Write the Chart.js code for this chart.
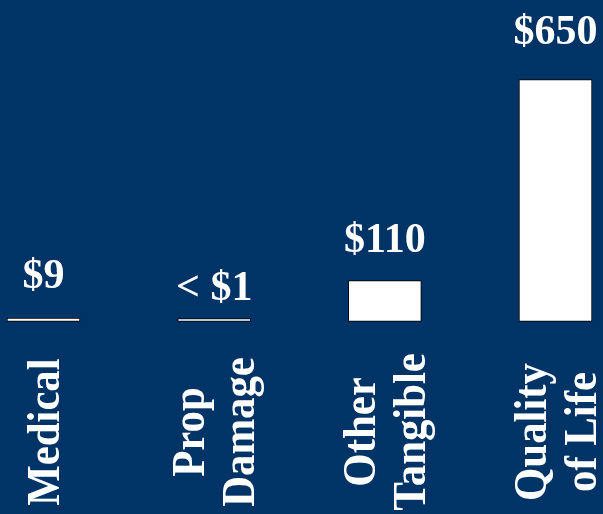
<!DOCTYPE html>
<html>
<head>
<meta charset="utf-8">
<script src="https://cdn.jsdelivr.net/npm/chart.js@4"></script>
<style>
    html, body { margin: 0; padding: 0; background: #003366; }
    #wrap { width: 603px; height: 514px; }
</style>
</head>
<body>
<div id="wrap"><canvas id="costChart" width="603" height="514"></canvas></div>
<script>
// Данные графика
const categories = [['Medical'], ['Prop', 'Damage'], ['Other', 'Tangible'], ['Quality', 'of Life']];
const costValues = [9, 0.8, 110, 650];
const valueLabels = ['$9', '< $1', '$110', '$650'];

// Подъём подписей над столбцами (как в исходном слайде)
const labelLift = [30, 19, 29, 36];

const VALUE_FONT = 'bold 42px "Liberation Serif", "Times New Roman", serif';
const CAT_FONT = 'bold 47px "Liberation Serif", "Times New Roman", serif';

/**
 * Подписи значений над столбцами и повёрнутые подписи категорий
 */
const slideLabels = {
    id: 'slideLabels',
    afterDatasetsDraw(chart) {
        const ctx = chart.ctx;
        const meta = chart.getDatasetMeta(0);
        const xScale = chart.scales.x;

        ctx.save();
        ctx.fillStyle = '#ffffff';

        // Значения
        ctx.font = VALUE_FONT;
        ctx.textAlign = 'center';
        ctx.textBaseline = 'alphabetic';
        meta.data.forEach((bar, i) => {
            ctx.fillText(valueLabels[i], bar.x, bar.y - labelLift[i]);
        });

        // Категории (вертикально, снизу вверх)
        ctx.font = CAT_FONT;
        const lineHeight = 50;
        const centerY = 432;
        categories.forEach((lines, i) => {
            const x = xScale.getPixelForValue(i) + 3;
            ctx.save();
            ctx.translate(x, centerY);
            ctx.rotate(-Math.PI / 2);
            ctx.scale(0.91, 1);
            ctx.textAlign = 'center';
            ctx.textBaseline = 'middle';
            lines.forEach((line, k) => {
                const off = (k - (lines.length - 1) / 2) * lineHeight;
                ctx.fillText(line, 0, off);
            });
            ctx.restore();
        });
        ctx.restore();
    }
};

new Chart(document.getElementById('costChart'), {
    type: 'bar',
    data: {
        labels: categories.map(c => c.join(' ')),
        datasets: [{
            data: costValues,
            backgroundColor: '#ffffff',
            borderColor: '#000000',
            borderWidth: 1,
            borderSkipped: false,
            barThickness: 73,
            minBarLength: 3,
            clip: false
        }]
    },
    options: {
        responsive: false,
        devicePixelRatio: 1,
        animation: false,
        layout: {
            padding: { left: 43.5, right: 47.5, top: 79.5, bottom: 192.5 }
        },
        scales: {
            x: {
                display: false,
                offset: false
            },
            y: {
                display: false,
                min: 0,
                max: 650
            }
        },
        plugins: {
            legend: { display: false },
            tooltip: { enabled: false }
        }
    },
    plugins: [slideLabels]
});
</script>
</body>
</html>
